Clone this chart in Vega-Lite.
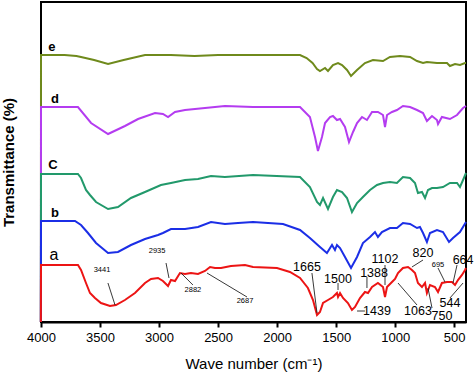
{
  "$schema": "https://vega.github.io/schema/vega-lite/v6.json",
  "width": 425,
  "height": 320,
  "autosize": {"type": "none"},
  "padding": {"left": 41, "top": 2, "right": 8, "bottom": 53},
  "config": {
    "view": {"stroke": "black", "strokeWidth": 2},
    "font": "Liberation Sans",
    "text": {"font": "Liberation Sans"}
  },
  "datasets": {
    "spectra": [
      {"s":"e","wn":4001,"t":0},{"s":"e","wn":4000,"t":267},{"s":"e","wn":3800,"t":267},{"s":"e","wn":3700,"t":266},{"s":"e","wn":3661,"t":265},{"s":"e","wn":3550,"t":262},{"s":"e","wn":3432,"t":258},{"s":"e","wn":3300,"t":262},{"s":"e","wn":3119,"t":267},{"s":"e","wn":2900,"t":267},{"s":"e","wn":2700,"t":266},{"s":"e","wn":2500,"t":267},{"s":"e","wn":2204,"t":267},{"s":"e","wn":1900,"t":267},{"s":"e","wn":1806,"t":267},{"s":"e","wn":1750,"t":264},{"s":"e","wn":1700,"t":259},{"s":"e","wn":1662,"t":253},{"s":"e","wn":1637,"t":251},{"s":"e","wn":1594,"t":254},{"s":"e","wn":1569,"t":251},{"s":"e","wn":1527,"t":257},{"s":"e","wn":1484,"t":259},{"s":"e","wn":1450,"t":257},{"s":"e","wn":1408,"t":252},{"s":"e","wn":1374,"t":246},{"s":"e","wn":1323,"t":252},{"s":"e","wn":1256,"t":259},{"s":"e","wn":1188,"t":262},{"s":"e","wn":1103,"t":261},{"s":"e","wn":1044,"t":265},{"s":"e","wn":959,"t":266},{"s":"e","wn":874,"t":265},{"s":"e","wn":815,"t":261},{"s":"e","wn":764,"t":259},{"s":"e","wn":731,"t":260},{"s":"e","wn":646,"t":259},{"s":"e","wn":561,"t":259},{"s":"e","wn":536,"t":256},{"s":"e","wn":493,"t":258},{"s":"e","wn":451,"t":257},{"s":"e","wn":408,"t":259},{"s":"e","wn":400,"t":259},
      {"s":"d","wn":4001,"t":0},{"s":"d","wn":4000,"t":215},{"s":"d","wn":3687,"t":215},{"s":"d","wn":3576,"t":199},{"s":"d","wn":3432,"t":188},{"s":"d","wn":3289,"t":196},{"s":"d","wn":3178,"t":203},{"s":"d","wn":3034,"t":209},{"s":"d","wn":2967,"t":208},{"s":"d","wn":2924,"t":205},{"s":"d","wn":2865,"t":210},{"s":"d","wn":2780,"t":212},{"s":"d","wn":2611,"t":214},{"s":"d","wn":2442,"t":216},{"s":"d","wn":2204,"t":215},{"s":"d","wn":1950,"t":215},{"s":"d","wn":1806,"t":215},{"s":"d","wn":1722,"t":205},{"s":"d","wn":1679,"t":185},{"s":"d","wn":1654,"t":171},{"s":"d","wn":1620,"t":185},{"s":"d","wn":1594,"t":199},{"s":"d","wn":1552,"t":205},{"s":"d","wn":1527,"t":206},{"s":"d","wn":1493,"t":202},{"s":"d","wn":1467,"t":203},{"s":"d","wn":1425,"t":195},{"s":"d","wn":1391,"t":180},{"s":"d","wn":1357,"t":190},{"s":"d","wn":1323,"t":199},{"s":"d","wn":1281,"t":205},{"s":"d","wn":1239,"t":202},{"s":"d","wn":1196,"t":210},{"s":"d","wn":1146,"t":210},{"s":"d","wn":1103,"t":207},{"s":"d","wn":1086,"t":195},{"s":"d","wn":1069,"t":207},{"s":"d","wn":1027,"t":210},{"s":"d","wn":985,"t":212},{"s":"d","wn":934,"t":216},{"s":"d","wn":874,"t":215},{"s":"d","wn":815,"t":212},{"s":"d","wn":764,"t":209},{"s":"d","wn":731,"t":201},{"s":"d","wn":688,"t":206},{"s":"d","wn":646,"t":202},{"s":"d","wn":637,"t":198},{"s":"d","wn":604,"t":205},{"s":"d","wn":536,"t":203},{"s":"d","wn":476,"t":207},{"s":"d","wn":425,"t":214},{"s":"d","wn":400,"t":216},
      {"s":"c","wn":4001,"t":0},{"s":"c","wn":4000,"t":148},{"s":"c","wn":3687,"t":148},{"s":"c","wn":3661,"t":144},{"s":"c","wn":3619,"t":132},{"s":"c","wn":3585,"t":127},{"s":"c","wn":3534,"t":120},{"s":"c","wn":3432,"t":113},{"s":"c","wn":3348,"t":115},{"s":"c","wn":3238,"t":124},{"s":"c","wn":3119,"t":130},{"s":"c","wn":2984,"t":137},{"s":"c","wn":2899,"t":139},{"s":"c","wn":2780,"t":142},{"s":"c","wn":2670,"t":143},{"s":"c","wn":2560,"t":146},{"s":"c","wn":2442,"t":145},{"s":"c","wn":2204,"t":147},{"s":"c","wn":1806,"t":145},{"s":"c","wn":1722,"t":135},{"s":"c","wn":1662,"t":120},{"s":"c","wn":1637,"t":117},{"s":"c","wn":1611,"t":124},{"s":"c","wn":1569,"t":113},{"s":"c","wn":1527,"t":125},{"s":"c","wn":1493,"t":132},{"s":"c","wn":1450,"t":130},{"s":"c","wn":1408,"t":124},{"s":"c","wn":1366,"t":110},{"s":"c","wn":1323,"t":119},{"s":"c","wn":1273,"t":125},{"s":"c","wn":1213,"t":132},{"s":"c","wn":1154,"t":137},{"s":"c","wn":1103,"t":139},{"s":"c","wn":1044,"t":140},{"s":"c","wn":985,"t":139},{"s":"c","wn":934,"t":145},{"s":"c","wn":874,"t":144},{"s":"c","wn":832,"t":139},{"s":"c","wn":807,"t":129},{"s":"c","wn":773,"t":130},{"s":"c","wn":747,"t":124},{"s":"c","wn":722,"t":132},{"s":"c","wn":688,"t":134},{"s":"c","wn":646,"t":134},{"s":"c","wn":595,"t":135},{"s":"c","wn":536,"t":139},{"s":"c","wn":476,"t":139},{"s":"c","wn":451,"t":135},{"s":"c","wn":425,"t":142},{"s":"c","wn":400,"t":149},
      {"s":"b","wn":4001,"t":0},{"s":"b","wn":4000,"t":101},{"s":"b","wn":3712,"t":101},{"s":"b","wn":3661,"t":97},{"s":"b","wn":3602,"t":89},{"s":"b","wn":3534,"t":79},{"s":"b","wn":3432,"t":69},{"s":"b","wn":3348,"t":70},{"s":"b","wn":3238,"t":77},{"s":"b","wn":3119,"t":83},{"s":"b","wn":3009,"t":87},{"s":"b","wn":2967,"t":89},{"s":"b","wn":2899,"t":93},{"s":"b","wn":2780,"t":93},{"s":"b","wn":2670,"t":95},{"s":"b","wn":2560,"t":100},{"s":"b","wn":2442,"t":98},{"s":"b","wn":2331,"t":99},{"s":"b","wn":2204,"t":100},{"s":"b","wn":1950,"t":98},{"s":"b","wn":1806,"t":92},{"s":"b","wn":1722,"t":84},{"s":"b","wn":1637,"t":75},{"s":"b","wn":1578,"t":69},{"s":"b","wn":1535,"t":77},{"s":"b","wn":1510,"t":72},{"s":"b","wn":1493,"t":77},{"s":"b","wn":1467,"t":74},{"s":"b","wn":1425,"t":65},{"s":"b","wn":1374,"t":54},{"s":"b","wn":1323,"t":65},{"s":"b","wn":1273,"t":79},{"s":"b","wn":1213,"t":85},{"s":"b","wn":1171,"t":90},{"s":"b","wn":1146,"t":85},{"s":"b","wn":1112,"t":90},{"s":"b","wn":1044,"t":94},{"s":"b","wn":985,"t":94},{"s":"b","wn":934,"t":99},{"s":"b","wn":874,"t":98},{"s":"b","wn":815,"t":94},{"s":"b","wn":790,"t":95},{"s":"b","wn":764,"t":89},{"s":"b","wn":731,"t":80},{"s":"b","wn":705,"t":89},{"s":"b","wn":646,"t":92},{"s":"b","wn":595,"t":90},{"s":"b","wn":544,"t":80},{"s":"b","wn":510,"t":84},{"s":"b","wn":451,"t":90},{"s":"b","wn":400,"t":100},
      {"s":"a","wn":4001,"t":0},{"s":"a","wn":4000,"t":57},{"s":"a","wn":3687,"t":57},{"s":"a","wn":3661,"t":52},{"s":"a","wn":3619,"t":39},{"s":"a","wn":3585,"t":29},{"s":"a","wn":3543,"t":24},{"s":"a","wn":3492,"t":19},{"s":"a","wn":3416,"t":16},{"s":"a","wn":3365,"t":17},{"s":"a","wn":3289,"t":22},{"s":"a","wn":3204,"t":29},{"s":"a","wn":3119,"t":39},{"s":"a","wn":3068,"t":43},{"s":"a","wn":3009,"t":44},{"s":"a","wn":2967,"t":41},{"s":"a","wn":2924,"t":36},{"s":"a","wn":2899,"t":42},{"s":"a","wn":2865,"t":41},{"s":"a","wn":2823,"t":49},{"s":"a","wn":2780,"t":48},{"s":"a","wn":2730,"t":49},{"s":"a","wn":2670,"t":48},{"s":"a","wn":2611,"t":51},{"s":"a","wn":2568,"t":55},{"s":"a","wn":2526,"t":54},{"s":"a","wn":2475,"t":54},{"s":"a","wn":2391,"t":56},{"s":"a","wn":2272,"t":57},{"s":"a","wn":2204,"t":55},{"s":"a","wn":2001,"t":54},{"s":"a","wn":1891,"t":50},{"s":"a","wn":1806,"t":44},{"s":"a","wn":1739,"t":34},{"s":"a","wn":1696,"t":22},{"s":"a","wn":1662,"t":7},{"s":"a","wn":1637,"t":10},{"s":"a","wn":1611,"t":19},{"s":"a","wn":1569,"t":22},{"s":"a","wn":1527,"t":25},{"s":"a","wn":1493,"t":29},{"s":"a","wn":1484,"t":25},{"s":"a","wn":1467,"t":29},{"s":"a","wn":1442,"t":24},{"s":"a","wn":1400,"t":19},{"s":"a","wn":1366,"t":12},{"s":"a","wn":1340,"t":15},{"s":"a","wn":1298,"t":24},{"s":"a","wn":1256,"t":30},{"s":"a","wn":1230,"t":29},{"s":"a","wn":1196,"t":35},{"s":"a","wn":1146,"t":39},{"s":"a","wn":1103,"t":35},{"s":"a","wn":1086,"t":25},{"s":"a","wn":1069,"t":35},{"s":"a","wn":1027,"t":40},{"s":"a","wn":1001,"t":43},{"s":"a","wn":976,"t":49},{"s":"a","wn":934,"t":54},{"s":"a","wn":891,"t":55},{"s":"a","wn":858,"t":52},{"s":"a","wn":832,"t":49},{"s":"a","wn":807,"t":39},{"s":"a","wn":773,"t":35},{"s":"a","wn":747,"t":39},{"s":"a","wn":731,"t":29},{"s":"a","wn":705,"t":37},{"s":"a","wn":663,"t":35},{"s":"a","wn":637,"t":30},{"s":"a","wn":604,"t":39},{"s":"a","wn":561,"t":40},{"s":"a","wn":519,"t":40},{"s":"a","wn":493,"t":37},{"s":"a","wn":468,"t":42},{"s":"a","wn":434,"t":47},{"s":"a","wn":408,"t":52},{"s":"a","wn":400,"t":54}
    ],
    "leaders": [
      {"wn1":3433,"t1":39,"wn2":3373,"t2":17},
      {"wn1":2941,"t1":59,"wn2":2916,"t2":44},
      {"wn1":2814,"t1":49,"wn2":2713,"t2":37},
      {"wn1":2594,"t1":49,"wn2":2255,"t2":25},
      {"wn1":1705,"t1":49,"wn2":1662,"t2":9},
      {"wn1":1484,"t1":39,"wn2":1484,"t2":32},
      {"wn1":1239,"t1":45,"wn2":1239,"t2":34},
      {"wn1":1086,"t1":57,"wn2":1086,"t2":37},
      {"wn1":764,"t1":62,"wn2":858,"t2":55},
      {"wn1":637,"t1":54,"wn2":578,"t2":40},
      {"wn1":476,"t1":57,"wn2":510,"t2":39},
      {"wn1":1323,"t1":11,"wn2":1256,"t2":11},
      {"wn1":976,"t1":39,"wn2":815,"t2":17},
      {"wn1":722,"t1":34,"wn2":688,"t2":14},
      {"wn1":425,"t1":39,"wn2":536,"t2":24}
    ],
    "smallLabels": [
      {"wn":3483,"t":52,"label":"3441"},
      {"wn":3017,"t":71,"label":"2935"},
      {"wn":2713,"t":32,"label":"2882"},
      {"wn":2272,"t":21,"label":"2687"},
      {"wn":637,"t":57,"label":"695"}
    ],
    "bigLabels": [
      {"wn":1747,"t":55,"label":"1665"},
      {"wn":1484,"t":43,"label":"1500"},
      {"wn":1179,"t":49,"label":"1388"},
      {"wn":1086,"t":63,"label":"1102"},
      {"wn":764,"t":69,"label":"820"},
      {"wn":425,"t":62,"label":"664"},
      {"wn":1154,"t":11,"label":"1439"},
      {"wn":807,"t":11,"label":"1063"},
      {"wn":604,"t":6,"label":"750"},
      {"wn":536,"t":19,"label":"544"}
    ],
    "letters": [
      {"wn":3907,"t":275,"label":"e"},
      {"wn":3881,"t":223,"label":"d"},
      {"wn":3898,"t":157,"label":"C"},
      {"wn":3881,"t":109,"label":"b"}
    ],
    "letterA": [
      {"wn":3890,"t":67,"label":"a"}
    ]
  },
  "layer": [
    {
      "data": {"name": "spectra"},
      "mark": {"type": "line", "strokeWidth": 2},
      "encoding": {
        "x": {
          "field": "wn", "type": "quantitative",
          "scale": {"domain": [400, 4000], "reverse": true, "nice": false, "zero": false},
          "axis": {
            "title": "Wave number (cm⁻¹)",
            "titleFont": "Liberation Sans", "titleFontSize": 15, "titleFontWeight": "normal", "titleColor": "black", "titlePadding": 12,
            "values": [4000, 3750, 3500, 3250, 3000, 2750, 2500, 2250, 2000, 1750, 1500, 1250, 1000, 750, 500],
            "labelExpr": "datum.value % 500 === 0 ? datum.value : ''",
            "labelFont": "Liberation Sans", "labelFontSize": 13, "labelColor": "black", "labelPadding": 4,
            "labelFlush": false, "labelOverlap": false,
            "tickColor": "black", "tickWidth": 2,
            "tickSize": {"condition": {"test": "datum.value % 500 === 0", "value": 5}, "value": 4},
            "domainColor": "black", "domainWidth": 2, "grid": false
          }
        },
        "y": {
          "field": "t", "type": "quantitative",
          "scale": {"domain": [0, 320], "nice": false, "zero": false},
          "axis": {
            "title": "Transmittance (%)", "titleFont": "Liberation Sans", "titleFontSize": 15, "titleFontWeight": "bold", "titleColor": "black",
            "titlePadding": 25, "labels": false, "ticks": false, "domain": false, "grid": false
          }
        },
        "color": {
          "field": "s", "type": "nominal",
          "scale": {"domain": ["e", "d", "c", "b", "a"], "range": ["#6f8a1c", "#b43cf0", "#22996b", "#1b2ee6", "#ec1414"]},
          "legend": null
        }
      }
    },
    {
      "data": {"name": "leaders"},
      "mark": {"type": "rule", "color": "#222222", "strokeWidth": 0.9},
      "encoding": {
        "x": {"field": "wn1", "type": "quantitative"},
        "x2": {"field": "wn2"},
        "y": {"field": "t1", "type": "quantitative"},
        "y2": {"field": "t2"}
      }
    },
    {
      "data": {"name": "smallLabels"},
      "mark": {"type": "text", "fontSize": 7.5, "color": "black", "align": "center", "baseline": "middle"},
      "encoding": {
        "x": {"field": "wn", "type": "quantitative"},
        "y": {"field": "t", "type": "quantitative"},
        "text": {"field": "label"}
      }
    },
    {
      "data": {"name": "bigLabels"},
      "mark": {"type": "text", "fontSize": 12.5, "color": "black", "align": "center", "baseline": "middle"},
      "encoding": {
        "x": {"field": "wn", "type": "quantitative"},
        "y": {"field": "t", "type": "quantitative"},
        "text": {"field": "label"}
      }
    },
    {
      "data": {"name": "letters"},
      "mark": {"type": "text", "fontSize": 13, "fontWeight": "bold", "color": "black", "align": "center", "baseline": "middle"},
      "encoding": {
        "x": {"field": "wn", "type": "quantitative"},
        "y": {"field": "t", "type": "quantitative"},
        "text": {"field": "label"}
      }
    },
    {
      "data": {"name": "letterA"},
      "mark": {"type": "text", "fontSize": 16, "color": "black", "align": "center", "baseline": "middle"},
      "encoding": {
        "x": {"field": "wn", "type": "quantitative"},
        "y": {"field": "t", "type": "quantitative"},
        "text": {"field": "label"}
      }
    }
  ]
}
